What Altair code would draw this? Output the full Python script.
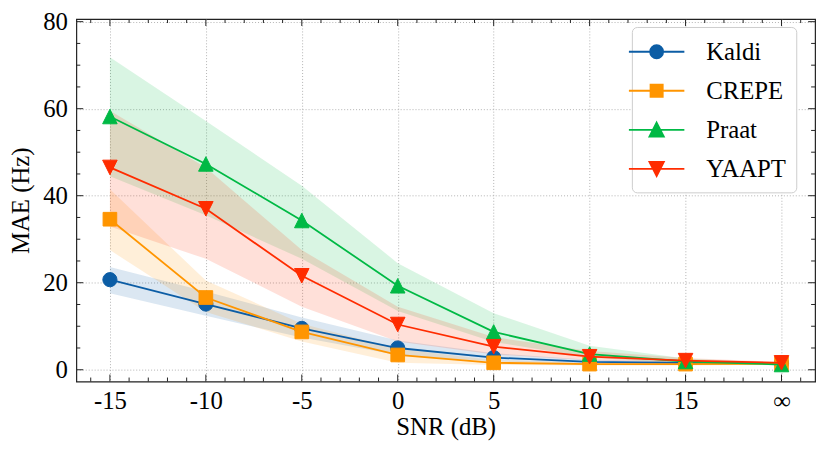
import altair as alt
import pandas as pd

# SNR levels (20 stands for the "∞" / clean condition)
snr = [-15, -10, -5, 0, 5, 10, 15, 20]
methods = ["Kaldi", "CREPE", "Praat", "YAAPT"]
colors = ["#0C5DA5", "#FF9500", "#00B945", "#FF2C00"]

kaldi_mae = [20.7, 15.1, 9.5, 5.0, 2.8, 1.8, 1.6, 1.5]
kaldi_lo = [17.6, 12.4, 7.4, 3.4, 1.9, 1.4, 1.3, 1.3]
kaldi_hi = [23.6, 18.0, 12.0, 6.7, 3.8, 2.3, 1.9, 1.7]

crepe_mae = [34.6, 16.6, 8.7, 3.4, 1.6, 1.3, 1.3, 1.4]
crepe_lo = [27.5, 13.3, 6.5, 1.6, 1.1, 1.0, 1.0, 1.2]
crepe_hi = [41.5, 20.5, 10.6, 4.8, 2.2, 1.6, 1.6, 1.6]

praat_mae = [58.2, 47.3, 34.3, 19.3, 8.7, 3.6, 1.9, 1.2]
praat_lo = [44.5, 35.5, 25.5, 13.5, 6.4, 2.8, 1.4, 1.0]
praat_hi = [71.8, 57.2, 42.3, 24.5, 13.0, 5.5, 2.6, 1.5]

yaapt_mae = [46.5, 37.0, 21.6, 10.4, 5.3, 3.0, 2.1, 1.6]
yaapt_lo = [32.9, 25.5, 14.5, 6.5, 3.5, 2.2, 1.6, 1.4]
yaapt_hi = [59.5, 46.5, 27.5, 14.5, 7.5, 4.3, 2.7, 1.8]

# tick values
x_major = snr
x_minor = [v for v in range(-16, 22) if v % 5 != 0]
y_major = [0, 20, 40, 60, 80]
y_minor = [v for v in range(0, 81, 5) if v % 20 != 0]

series = {
    "Kaldi": (kaldi_mae, kaldi_lo, kaldi_hi),
    "CREPE": (crepe_mae, crepe_lo, crepe_hi),
    "Praat": (praat_mae, praat_lo, praat_hi),
    "YAAPT": (yaapt_mae, yaapt_lo, yaapt_hi),
}
rows = []
for m in methods:
    mae, lo, hi = series[m]
    for s, a, l, h in zip(snr, mae, lo, hi):
        rows.append({"Method": m, "snr": s, "mae": a, "lo": l, "hi": h})
df = pd.DataFrame(rows)

FONT = "Liberation Serif"
FS = 25

xscale = alt.Scale(domain=[-16.75, 21.75], nice=False, zero=False)
yscale = alt.Scale(domain=[-2.7, 80.6], nice=False, zero=False)

xaxis = alt.Axis(
    values=x_major, title="SNR (dB)", grid=True, ticks=False, tickSize=0,
    domain=False, labelPadding=7,
    labelExpr="datum.value == 20 ? '∞' : toString(datum.value)",
    gridDash=[1, 2], gridColor="#aaaaaa", gridWidth=0.9,
    labelFont=FONT, labelFontSize=FS, labelColor="black",
    titleFont=FONT, titleFontSize=FS, titleFontWeight="normal", titleColor="black",
    titlePadding=2,
)
yaxis = alt.Axis(
    values=y_major, title="MAE (Hz)", grid=True, ticks=False, tickSize=0,
    domain=False, labelPadding=9,
    gridDash=[1, 2], gridColor="#aaaaaa", gridWidth=0.9,
    labelFont=FONT, labelFontSize=FS, labelColor="black",
    titleFont=FONT, titleFontSize=FS, titleFontWeight="normal", titleColor="black",
    titlePadding=9,
)

X = alt.X("snr:Q", scale=xscale, axis=xaxis)
Ylo = alt.Y("lo:Q", scale=yscale, axis=yaxis)
Ymae = alt.Y("mae:Q", scale=yscale, axis=yaxis)

marker_shapes = {
    "Kaldi": "circle",
    "CREPE": "square",
    "Praat": "M0,-1L1,1L-1,1Z",
    "YAAPT": "M0,1L1,-1L-1,-1Z",
}
marker_sizes = {"Kaldi": 205, "CREPE": 190, "Praat": 215, "YAAPT": 215}

layers = []
for m, c in zip(methods, colors):
    layers.append(
        alt.Chart(df).transform_filter(alt.datum.Method == m)
        .mark_area(color=c, opacity=0.15)
        .encode(x=X, y=Ylo, y2="hi:Q")
    )
for m, c in zip(methods, colors):
    base = alt.Chart(df).transform_filter(alt.datum.Method == m)
    layers.append(base.mark_line(color=c, strokeWidth=1.8).encode(x=X, y=Ymae))
    layers.append(
        base.mark_point(
            shape=marker_shapes[m], filled=True, size=marker_sizes[m],
            fill=c, stroke=c, strokeWidth=1, opacity=1,
        ).encode(x=X, y=Ymae)
    )

# inward ticks on all four sides
TC = "#222222"
for vals, length in [(x_major, 7), (x_minor, 4)]:
    tdf = pd.DataFrame({"pos": vals})
    layers.append(alt.Chart(tdf).mark_rule(color=TC, strokeWidth=1).encode(
        x=alt.X("pos:Q", scale=xscale, axis=xaxis),
        y=alt.value("height"), y2=alt.value({"expr": f"height-{length}"})))
    layers.append(alt.Chart(tdf).mark_rule(color=TC, strokeWidth=1).encode(
        x=alt.X("pos:Q", scale=xscale, axis=xaxis),
        y=alt.value(0), y2=alt.value(length)))
for vals, length in [(y_major, 7), (y_minor, 4)]:
    tdf = pd.DataFrame({"pos": vals})
    layers.append(alt.Chart(tdf).mark_rule(color=TC, strokeWidth=1).encode(
        y=alt.Y("pos:Q", scale=yscale, axis=yaxis),
        x=alt.value(0), x2=alt.value(length)))
    layers.append(alt.Chart(tdf).mark_rule(color=TC, strokeWidth=1).encode(
        y=alt.Y("pos:Q", scale=yscale, axis=yaxis),
        x=alt.value("width"), x2=alt.value({"expr": f"width-{length}"})))

# legend: line + marker symbols
line_part = "M-2,0H2"
legend_paths = [
    line_part + "M0.47,0A0.47,0.47,0,1,1,-0.47,0A0.47,0.47,0,1,1,0.47,0Z",
    line_part + "M-0.44,-0.44H0.44V0.44H-0.44Z",
    line_part + "M0,-0.52L0.52,0.5H-0.52Z",
    line_part + "M0,0.52L0.52,-0.5H-0.52Z",
]
leg = alt.Legend(
    title=None, orient="none", legendX=561, legendY=8,
    padding=10, rowPadding=11.4, symbolSize=784, symbolStrokeWidth=1.8,
    symbolOpacity=1, labelOffset=35, labelFont=FONT, labelFontSize=FS,
    labelColor="black", strokeColor="#cccccc", fillColor="white",
    cornerRadius=5,
)
legend_layer = alt.Chart(pd.DataFrame({"Method": methods})).transform_filter("false").mark_point(
    filled=True, opacity=1
).encode(
    fill=alt.Fill("Method:N", scale=alt.Scale(domain=methods, range=colors), legend=leg),
    stroke=alt.Stroke("Method:N", scale=alt.Scale(domain=methods, range=colors), legend=leg),
    shape=alt.Shape("Method:N", scale=alt.Scale(domain=methods, range=legend_paths), legend=leg),
)
layers.append(legend_layer)

chart = alt.layer(*layers).properties(
    width=746, height=366,
    autosize=alt.AutoSizeParams(type="none"),
    padding={"left": 69, "top": 9, "right": 8, "bottom": 67},
).configure_view(stroke="#222222", strokeWidth=1.2)

chart.save("out.html", embed_options={"renderer": "svg", "actions": False})
